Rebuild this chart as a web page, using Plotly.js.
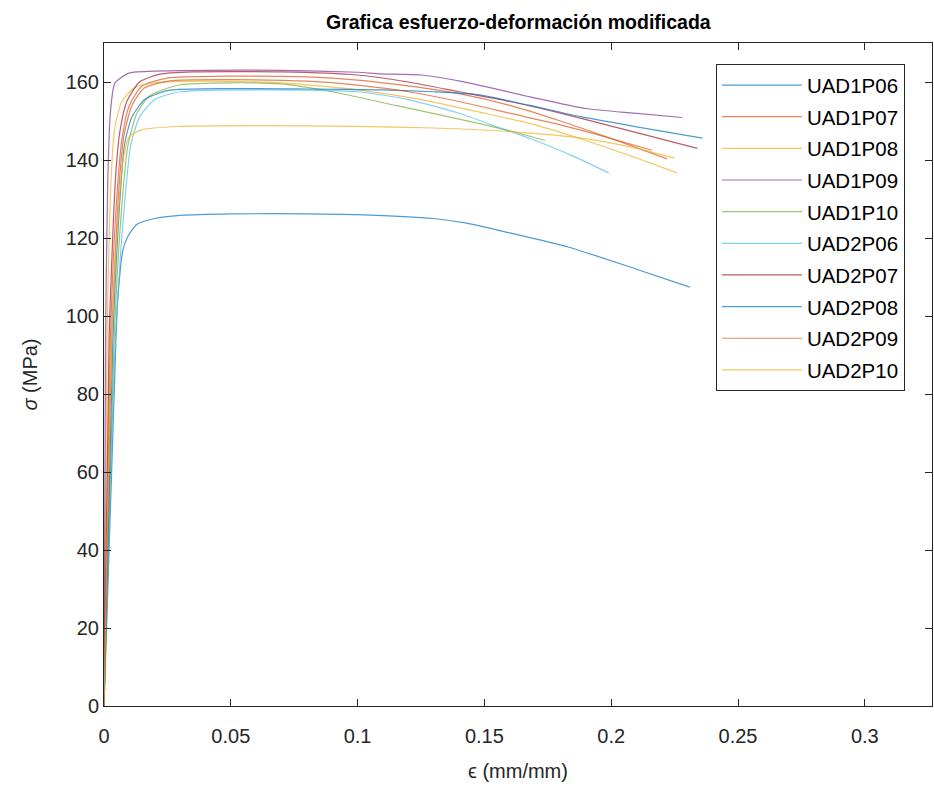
<!DOCTYPE html>
<html>
<head>
<meta charset="utf-8">
<script src="https://cdn.plot.ly/plotly-3.0.1.min.js"></script>
<style>html,body{margin:0;padding:0;background:#fff;}#chart{width:934px;height:789px;}</style>
</head>
<body>
<div id="chart"></div>
<script>
// ---- data (strain mm/mm, stress MPa) ----
const seriesNames = ["UAD1P06","UAD1P07","UAD1P08","UAD1P09","UAD1P10","UAD2P06","UAD2P07","UAD2P08","UAD2P09","UAD2P10"];
const seriesColors = ["#0072BD","#D95319","#EDB120","#7E2F8E","#77AC30","#4DBEEE","#A2142F","#0072BD","#D95319","#EDB120"];

const UAD1P06_x = [0, 0.0047, 0.0055, 0.0075, 0.0095, 0.013, 0.02, 0.03, 0.05, 0.08, 0.1, 0.13, 0.143, 0.16, 0.183, 0.21, 0.231];
const UAD1P06_y = [0, 94, 105, 117, 120.5, 123.5, 125, 125.8, 126.2, 126.2, 126, 125, 123.8, 121.3, 117.7, 112, 107.4];

const UAD1P07_x = [0, 0.0025, 0.005, 0.0072, 0.01, 0.015, 0.025, 0.05, 0.08, 0.1, 0.12, 0.14, 0.16, 0.18, 0.2, 0.222];
const UAD1P07_y = [0, 94, 130, 146, 154, 159, 161, 161.5, 161.3, 160.5, 159, 157, 154, 150, 145.5, 140.3];

const UAD1P08_x = [0, 0.0012, 0.0028, 0.0042, 0.007, 0.012, 0.02, 0.04, 0.07, 0.1, 0.125, 0.15, 0.17, 0.19, 0.21, 0.226];
const UAD1P08_y = [0, 94, 135, 148, 155, 158.5, 159.8, 160.2, 159.8, 158, 155.5, 152, 149, 145, 140.5, 136.7];

const UAD1P09_x = [0, 0.0006, 0.0015, 0.0025, 0.0043, 0.0095, 0.0134, 0.02, 0.04, 0.07, 0.1, 0.109, 0.125, 0.1415, 0.168, 0.19, 0.209, 0.228];
const UAD1P09_y = [0, 94, 135, 152, 159.7, 162.2, 162.6, 162.8, 163, 163, 162.5, 162.1, 161.8, 160.1, 156.2, 153.2, 152, 150.9];

const UAD1P10_x = [0, 0.004, 0.007, 0.0095, 0.013, 0.018, 0.03, 0.05, 0.07, 0.09, 0.115, 0.14, 0.16, 0.174];
const UAD1P10_y = [0, 94, 128, 144, 152, 156.5, 159.3, 159.8, 159.5, 157.5, 154, 150.5, 147.5, 145];

const UAD2P06_x = [0, 0.0045, 0.008, 0.0106, 0.014, 0.02, 0.03, 0.06, 0.1, 0.12, 0.14, 0.155, 0.17, 0.185, 0.199];
const UAD2P06_y = [0, 94, 128, 144, 151, 155.5, 157.5, 158, 157.5, 155.5, 152, 148.5, 145, 141, 136.7];

const UAD2P07_x = [0, 0.002, 0.0045, 0.0062, 0.009, 0.014, 0.022, 0.035, 0.07, 0.1, 0.12, 0.14, 0.16, 0.18, 0.21, 0.234];
const UAD2P07_y = [0, 94, 135, 147, 155, 160, 162, 162.6, 162.6, 161.8, 160, 157.5, 155, 152, 147, 143];

const UAD2P08_x = [0, 0.0035, 0.0065, 0.0081, 0.011, 0.016, 0.025, 0.05, 0.08, 0.109, 0.13, 0.148, 0.168, 0.188, 0.21, 0.236];
const UAD2P08_y = [0, 94, 132, 144, 151, 155.5, 157.8, 158.3, 158.2, 158, 157.5, 156.7, 154, 151.1, 148.5, 145.6];

const UAD2P09_x = [0, 0.003, 0.0058, 0.0078, 0.011, 0.016, 0.026, 0.05, 0.08, 0.1, 0.12, 0.14, 0.16, 0.18, 0.2, 0.216];
const UAD2P09_y = [0, 94, 132, 146, 154, 158.5, 160.3, 160.6, 160.2, 159.2, 157.5, 155, 152, 149, 145.5, 142.5];

const UAD2P10_x = [0, 0.003, 0.0055, 0.0075, 0.01, 0.015, 0.03, 0.06, 0.1, 0.13, 0.16, 0.19, 0.21, 0.225];
const UAD2P10_y = [0, 94, 125, 140, 146, 147.8, 148.6, 148.8, 148.6, 148.2, 147.3, 145.5, 143, 140.5];

const xTickVals = [0, 0.05, 0.1, 0.15, 0.2, 0.25, 0.3];
const xTickText = ["0", "0.05", "0.1", "0.15", "0.2", "0.25", "0.3"];
const yTickVals = [0, 20, 40, 60, 80, 100, 120, 140, 160];

const xs = [UAD1P06_x, UAD1P07_x, UAD1P08_x, UAD1P09_x, UAD1P10_x, UAD2P06_x, UAD2P07_x, UAD2P08_x, UAD2P09_x, UAD2P10_x];
const ys = [UAD1P06_y, UAD1P07_y, UAD1P08_y, UAD1P09_y, UAD1P10_y, UAD2P06_y, UAD2P07_y, UAD2P08_y, UAD2P09_y, UAD2P10_y];

const traces = seriesNames.map((n, i) => ({
  type: "scatter", mode: "lines", name: n, x: xs[i], y: ys[i],
  legendgroup: n,
  line: {color: seriesColors[i], width: 1.2, shape: "spline", smoothing: 0.6},
  opacity: 0.7
}));

const fontFam = "Liberation Sans, Arial, Helvetica, sans-serif";
const axCommon = {
  showline: true, mirror: "ticks", linecolor: "#262626", linewidth: 1,
  ticks: "inside", ticklen: 7, tickcolor: "#262626",
  showgrid: false, zeroline: false,
  tickfont: {family: fontFam, size: 20, color: "#262626"}
};

const layout = {
  width: 934, height: 789,
  margin: {l: 104, r: 2, t: 43, b: 83},
  paper_bgcolor: "#fff", plot_bgcolor: "#fff",
  title: {text: "<b>Grafica esfuerzo-deformación modificada</b>", font: {family: fontFam, size: 19.5, color: "#000"}, x: 0.555, xanchor: "center", y: 0.972, yanchor: "middle"},
  xaxis: Object.assign({}, axCommon, {
    range: [0, 0.3265], tickvals: xTickVals, ticktext: xTickText, ticklabelstandoff: 12,
    title: {text: "ϵ (mm/mm)", font: {family: fontFam, size: 20, color: "#262626"}, standoff: 17}
  }),
  yaxis: Object.assign({}, axCommon, {
    range: [0, 170], tickvals: yTickVals,
    title: {text: "<i>σ</i> (MPa)", font: {family: fontFam, size: 20, color: "#262626"}, standoff: 22}
  }),
  showlegend: true,
  legend: {
    x: 0.739, y: 0.968, xanchor: "left", yanchor: "top",
    bgcolor: "#fff", bordercolor: "#262626", borderwidth: 1,
    font: {family: fontFam, size: 20.5, color: "#000"},
    tracegroupgap: 2, itemwidth: 80
  }
};

Plotly.newPlot("chart", traces, layout, {displayModeBar: false, staticPlot: true});
</script>
</body>
</html>
